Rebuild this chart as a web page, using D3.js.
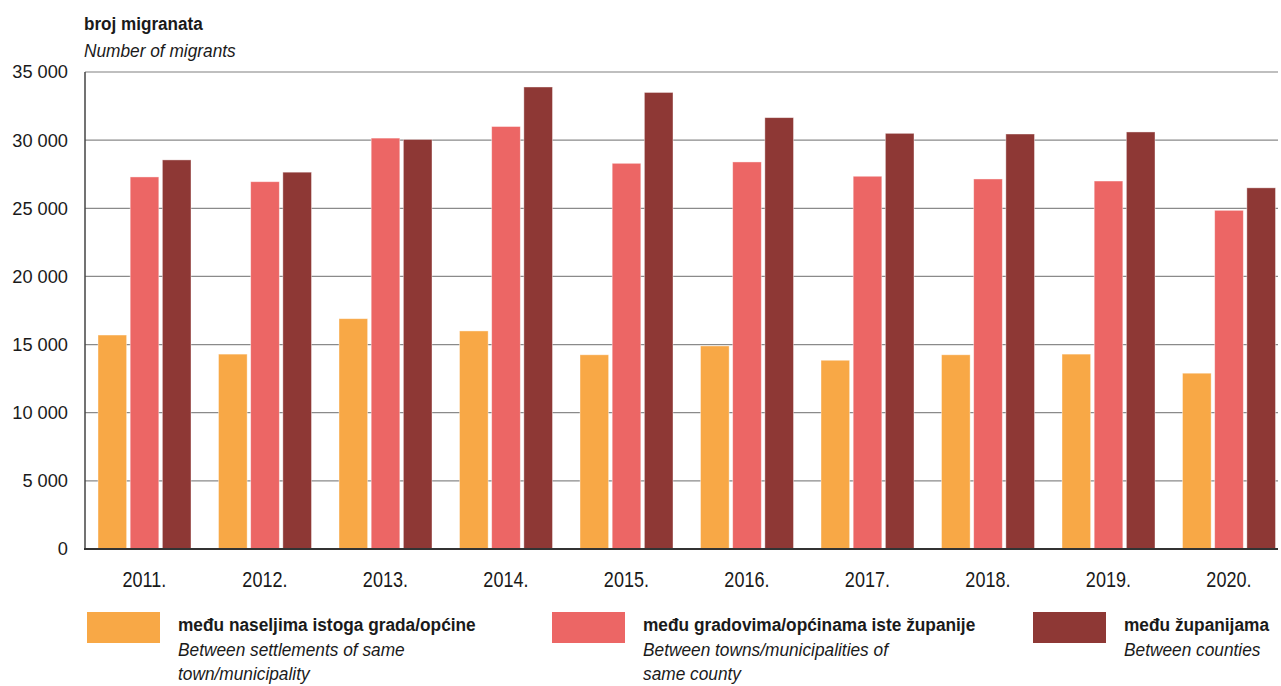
<!DOCTYPE html>
<html><head><meta charset="utf-8">
<script src="https://cdn.jsdelivr.net/npm/d3@7"></script>
<style>
body{margin:0;background:#fff;}
svg text{font-family:"Liberation Sans",Arial,sans-serif;fill:#1a1a1a;}
</style></head><body>
<svg id="c" width="1281" height="686"></svg>
<script>
const years = ["2011.","2012.","2013.","2014.","2015.","2016.","2017.","2018.","2019.","2020."];
const withinTown = [15700,14300,16900,16000,14250,14900,13850,14250,14300,12900];
const withinCounty = [27300,26950,30150,31000,28300,28400,27350,27150,27000,24850];
const betweenCounties = [28550,27650,30050,33900,33500,31650,30500,30450,30600,26500];
const yTicks = [0,5000,10000,15000,20000,25000,30000,35000];
const seriesKeys = ["withinTown","withinCounty","betweenCounties"];
const seriesColors = ["#F8A846","#EC6665","#8E3835"];
const legendHr = ["među naseljima istoga grada/općine","među gradovima/općinama iste županije","među županijama"];
const legendEn = [["Between settlements of same","town/municipality"],["Between towns/municipalities of","same county"],["Between counties"]];

const svg = d3.select("#c");
const pLeft = 85, pRight = 1278, pTop = 72, pBottom = 549;
const x = d3.scaleBand().domain(years).range([pLeft, pLeft + 120.5*10]);
const xs = d3.scaleBand().domain(seriesKeys).range([13, 106]).paddingInner(0.11);
const y = d3.scaleLinear().domain([0,35000]).range([pBottom, pTop]);
const fmt = v => d3.format(",")(v).replace(/,/g, " ");

// horizontal condensing of text (reference uses a condensed face)
function condense(sel, k){
  sel.each(function(){
    const t = d3.select(this);
    const ax = +(t.attr("x") || 0);
    t.attr("transform", `translate(${ax},0) scale(${k},1) translate(${-ax},0)`);
  });
}

// gridlines
svg.append("g").selectAll("line").data(yTicks.filter(t=>t>0)).join("line")
  .attr("x1", pLeft).attr("x2", pRight).attr("y1", d=>y(d)).attr("y2", d=>y(d))
  .attr("stroke", d=> d===35000 ? "#aaa" : "#8a8a8a").attr("stroke-width", d=> d===35000?1.6:1.2);

// y axis labels
const ya = svg.append("g").attr("transform",`translate(${pLeft},0)`)
  .call(d3.axisLeft(y).tickValues(yTicks).tickFormat(fmt).tickSize(0).tickPadding(17));
ya.select(".domain").remove();
ya.selectAll("text").style("font-size","18.6px").attr("fill","#1a1a1a").call(condense, 0.98);

// bars
const data = years.map((yr,i)=>({yr, withinTown:withinTown[i], withinCounty:withinCounty[i], betweenCounties:betweenCounties[i]}));
const g = svg.append("g").selectAll("g").data(data).join("g").attr("transform", d=>`translate(${x(d.yr)},0)`);
g.selectAll("rect").data(d=>seriesKeys.map((k,j)=>({k,v:d[k],j}))).join("rect")
  .attr("x", d=>xs(d.k)).attr("width", xs.bandwidth())
  .attr("y", d=>y(d.v)).attr("height", d=>pBottom - y(d.v))
  .attr("fill", d=>seriesColors[d.j]).attr("stroke","#fff").attr("stroke-opacity",0.5).attr("stroke-width",0.8);

// axes lines
svg.append("line").attr("x1",pLeft).attr("x2",pLeft).attr("y1",pTop).attr("y2",pBottom).attr("stroke","#444").attr("stroke-width",1.5);
svg.append("line").attr("x1",pLeft-1).attr("x2",pRight).attr("y1",pBottom).attr("y2",pBottom).attr("stroke","#333").attr("stroke-width",2);

// x labels
const xa = svg.append("g").attr("transform",`translate(0,${pBottom})`)
  .call(d3.axisBottom(x).tickSize(0).tickPadding(22));
xa.select(".domain").remove();
xa.selectAll("text").style("font-size","22px").attr("fill","#1a1a1a").attr("dx", "-1").call(condense, 0.82);

// titles
svg.append("text").attr("x",84).attr("y",30).style("font-size","19px").style("font-weight","bold").text("broj migranata").call(condense, 0.9);
svg.append("text").attr("x",84).attr("y",57).style("font-size","19px").style("font-style","italic").text("Number of migrants").call(condense, 0.91);

// legend
const legX = [87, 552, 1033];
const lg = svg.append("g").selectAll("g").data(seriesKeys).join("g").attr("transform",(d,i)=>`translate(${legX[i]},612)`);
lg.append("rect").attr("width",73).attr("height",31).attr("fill",(d,i)=>seriesColors[i]);
lg.append("text").attr("x",91).attr("y",19).style("font-size","19px").style("font-weight","bold").text((d,i)=>legendHr[i]).call(condense, 0.91);
lg.each(function(d,i){
  const sel = d3.select(this);
  legendEn[i].forEach((ln,k)=>{
    sel.append("text").attr("x",91).attr("y",44+k*24).style("font-size","19px").style("font-style","italic").text(ln).call(condense, 0.91);
  });
});
</script></body></html>
